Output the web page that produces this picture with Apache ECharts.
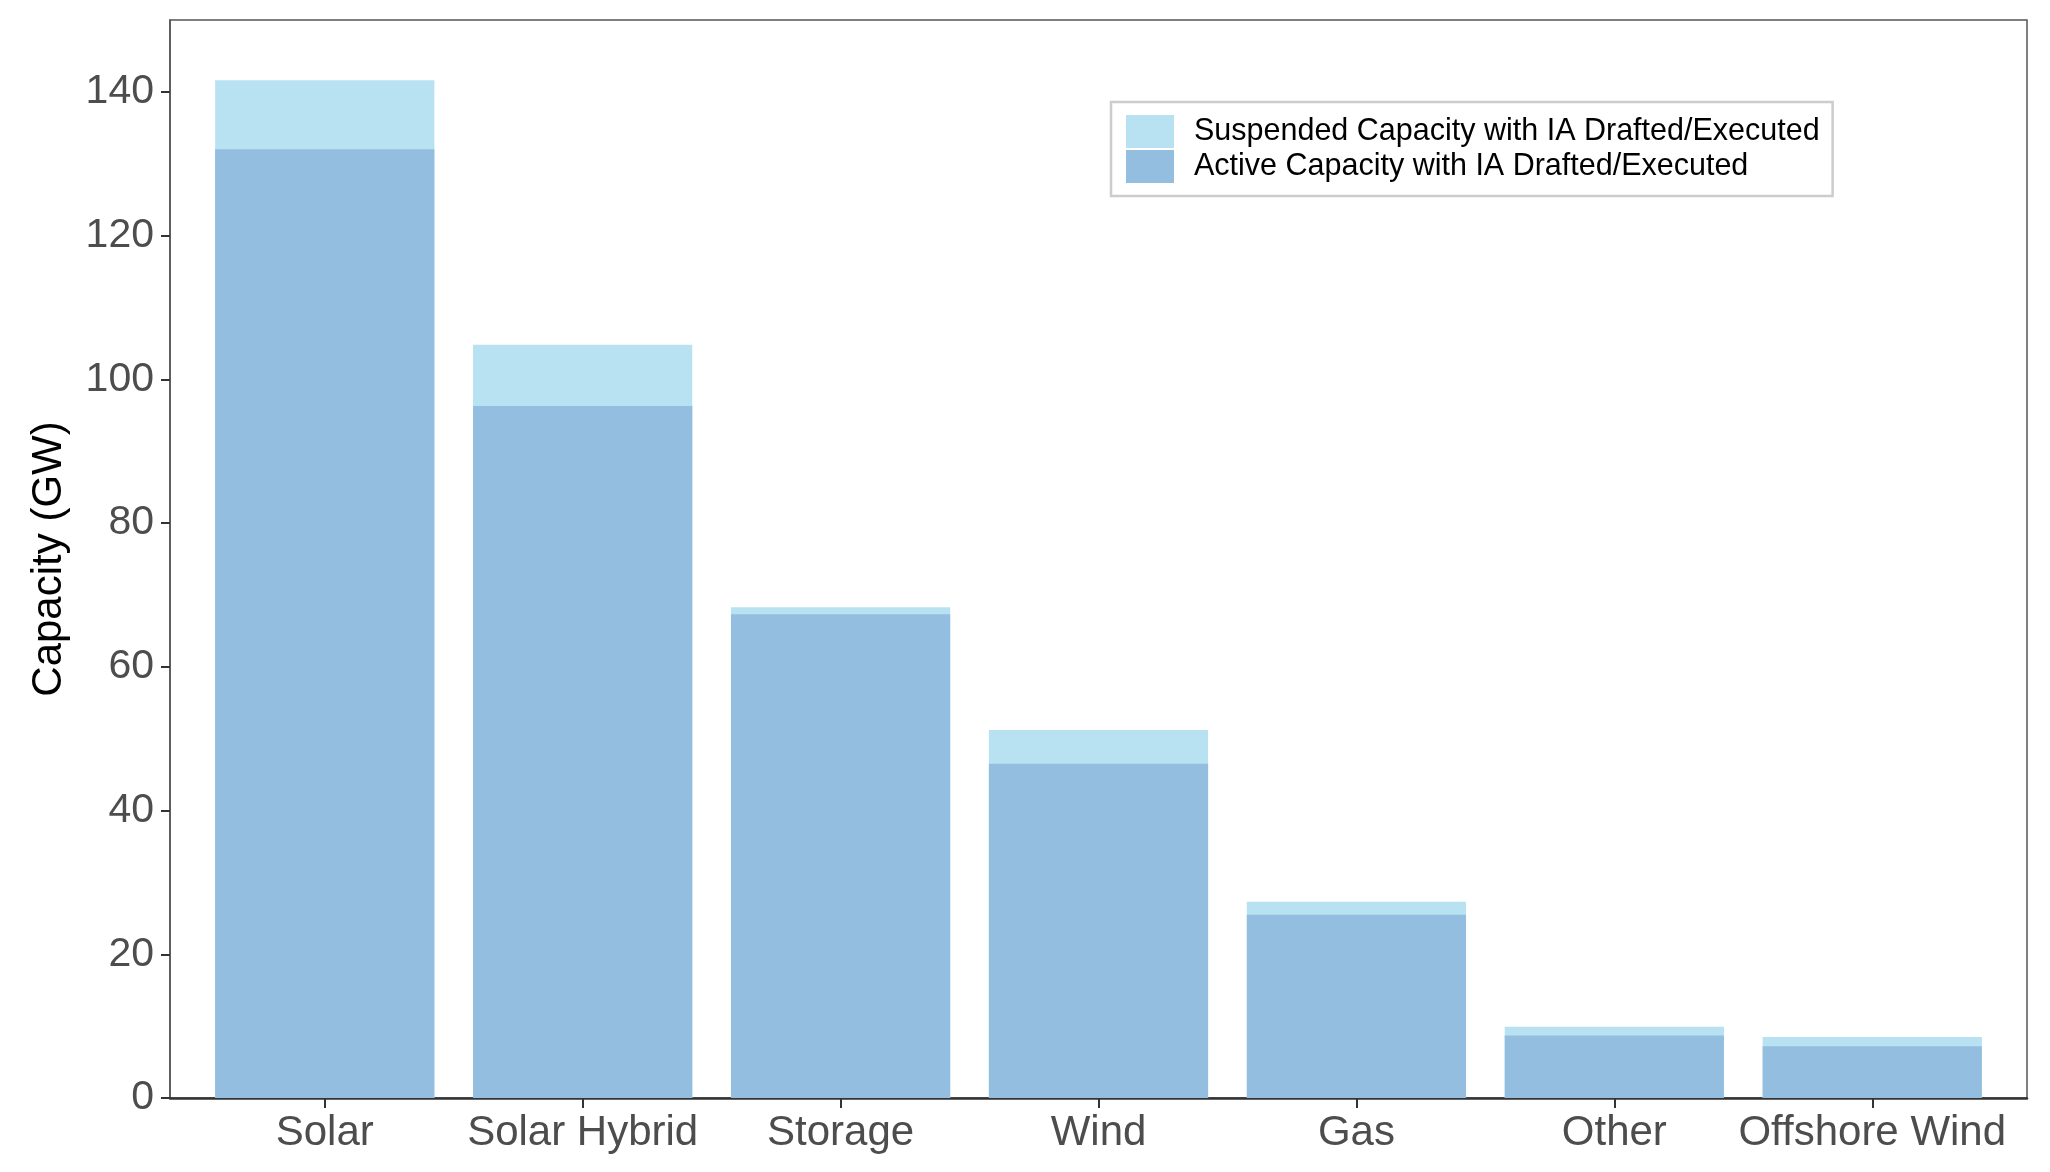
<!DOCTYPE html>
<html>
<head>
<meta charset="utf-8">
<script src="https://cdn.jsdelivr.net/npm/echarts@6/dist/echarts.min.js"></script>
<style>
html, body { margin: 0; padding: 0; background: #ffffff; }
#chart { width: 2050px; height: 1172px; }
</style>
</head>
<body>
<div id="chart"></div>
<script>
const categories = ['Solar', 'Solar Hybrid', 'Storage', 'Wind', 'Gas', 'Other', 'Offshore Wind'];
const activeCapacity = [132.0, 96.3, 67.3, 46.5, 25.5, 8.7, 7.2];
const suspendedCapacity = [9.6, 8.5, 1.0, 4.7, 1.8, 1.2, 1.3];
const yTicks = [0, 20, 40, 60, 80, 100, 120, 140];
const xPositions = [1, 2, 3, 4, 5, 6, 7];

const activeName = 'Active Capacity with IA Drafted/Executed';
const suspendedName = 'Suspended Capacity with IA Drafted/Executed';
const FONT = '"Liberation Sans", Arial, Helvetica, sans-serif';

// suspended capacity sits on top of the active capacity
const suspendedTop = activeCapacity.map((a, i) => +(a + suspendedCapacity[i]).toFixed(2));

const chart = echarts.init(document.getElementById('chart'), null, { renderer: 'canvas' });

chart.setOption({
  animation: false,
  backgroundColor: '#ffffff',
  textStyle: { fontFamily: FONT },
  grid: {
    left: 170, right: 23, top: 20, bottom: 74,
    show: true, borderColor: '#555555', borderWidth: 1.5, backgroundColor: 'transparent'
  },
  legend: {
    orient: 'vertical',
    left: 1111, top: 102,
    data: [suspendedName, activeName],
    icon: 'rect',
    itemWidth: 48, itemHeight: 33, itemGap: 2,
    padding: [13, 13, 13, 15],
    borderColor: '#cccccc', borderWidth: 2.5,
    selectedMode: false,
    textStyle: { fontSize: 30.5, color: '#000000', fontFamily: FONT, padding: [0, 0, 0, 15] }
  },
  xAxis: {
    type: 'value',
    min: 0.4, max: 7.6,
    splitLine: { show: false },
    axisLine: { show: true, lineStyle: { color: '#333333', width: 2.5 } },
    axisTick: { show: true, customValues: xPositions, length: 10, lineStyle: { color: '#333333', width: 2 } },
    axisLabel: {
      customValues: xPositions,
      formatter: function (v) { return categories[Math.round(v) - 1] || ''; },
      fontSize: 42, color: '#4d4d4d', margin: 14, fontFamily: FONT
    }
  },
  yAxis: {
    type: 'value',
    min: 0, max: 150,
    name: 'Capacity (GW)',
    nameLocation: 'middle',
    nameRotate: 90,
    nameGap: 100,
    nameTextStyle: { fontSize: 42, color: '#000000', fontFamily: FONT },
    splitLine: { show: false },
    axisLine: { show: true, lineStyle: { color: '#555555', width: 1.5 } },
    axisTick: { show: true, customValues: yTicks, length: 9, lineStyle: { color: '#333333', width: 2 } },
    axisLabel: { customValues: yTicks, fontSize: 41, color: '#4d4d4d', margin: 16, fontFamily: FONT }
  },
  series: [
    {
      name: suspendedName,
      type: 'bar',
      barWidth: '85%',
      barGap: '-100%',
      itemStyle: { color: '#b8e1f2' },
      data: xPositions.map((x, i) => [x, suspendedTop[i]])
    },
    {
      name: activeName,
      type: 'bar',
      barWidth: '85%',
      barGap: '-100%',
      itemStyle: { color: '#94bee0' },
      data: xPositions.map((x, i) => [x, activeCapacity[i]])
    }
  ]
});
</script>
</body>
</html>
